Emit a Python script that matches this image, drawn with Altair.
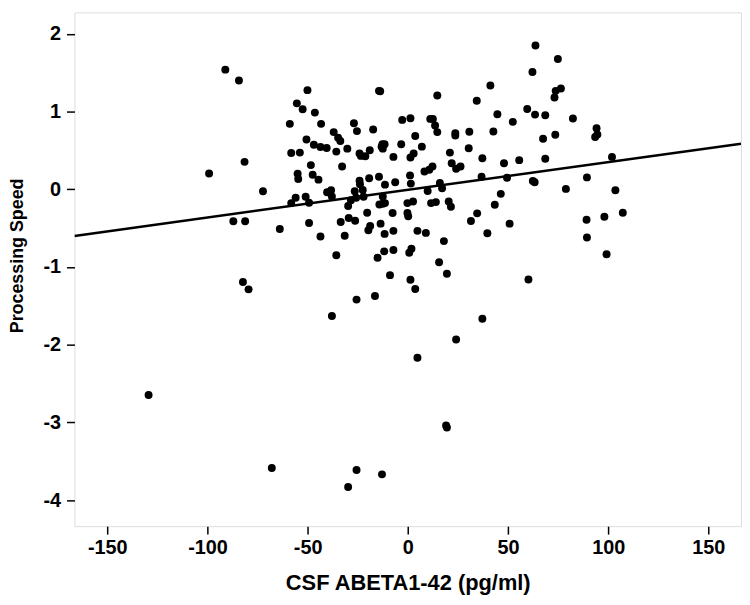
import altair as alt
import pandas as pd

# CSF ABETA1-42 (pg/ml) vs Processing Speed
abeta = [
    -91.1, -84.3, -50.1, -14.4, -13.8, -55.4, -52.5, -46.4, -58.9, -43.3,
    -26.9, -25.4, -17.3, -2.8, 1.3, 11.2, 12.5, 13.6, 14.7, 14.7,
    34.4, 41.2, 44.7, 52.4, 42.7, 30.7, 23.7, 23.7, 3.7, -3.3,
    7.0, -12.7, -11.6, -12.5, -13.1, 59.6, 63.5, 68.6, 62.2, 63.7,
    74.9, 73.8, 76.4, 73.2, 82.4, 94.2, 94.6, 93.5, 73.6, 67.5,
    68.6, 55.6, 48.0, 37.2, 30.4, 21.0, 21.9, 24.1, 26.3, 36.8,
    49.5, 101.9, 89.4, 78.9, 103.6, 62.4, 63.3, 46.4, 43.4, 107.3,
    98.1, 89.2, 89.4, 99.2, 50.8, 39.7, 34.6, 31.5, 60.2, -50.6,
    -46.9, -43.6, -40.5, -37.0, -34.8, -33.7, -30.2, -35.7, -58.2, -53.9,
    -48.4, -32.8, -24.1, -23.4, -21.2, -19.0, -7.2, 1.3, 2.9, -81.5,
    -99.2, -72.3, -55.0, -54.7, -47.5, -44.6, -14.4, -19.3, -24.1, -23.9,
    -11.4, -6.3, 1.1, 1.5, 8.3, 10.7, 12.3, 16.0, 17.1, 9.9,
    -40.3, -38.3, -37.9, -26.5, -22.5, -22.1, -25.8, -28.4, -29.8, -56.0,
    -58.2, -49.3, -51.0, -12.5, -12.5, -14.2, -11.4, -0.2, 2.6, 11.6,
    14.0, 20.4, 21.5, -20.3, -7.6, -0.2, 0.2, -29.5, -26.3, -33.5,
    -13.6, -18.8, -19.7, -11.6, -7.2, 4.8, 9.0, 18.0, 15.6, 19.5,
    -87.1, -81.2, -63.9, -49.3, -43.6, -31.5, -35.7, -15.1, -11.8, -7.2,
    0.7, 1.8, -8.9, 1.3, 3.7, -25.6, -16.4, -82.3, -79.5, -37.9,
    37.2, 24.1, 4.8, -129.4, 19.1, 19.5, -67.9, -25.6, -12.9, -29.8,
]
speed = [
    1.540, 1.399, 1.276, 1.267, 1.263, 1.106, 1.029, 0.987, 0.842, 0.842,
    0.851, 0.749, 0.770, 0.893, 0.915, 0.906, 0.906, 0.821, 0.736, 1.208,
    1.140, 1.335, 0.966, 0.868, 0.744, 0.740, 0.723, 0.693, 0.685, 0.579,
    0.549, 0.579, 0.579, 0.523, 0.549, 1.034, 0.961, 0.953, 1.510, 1.850,
    1.676, 1.267, 1.297, 1.182, 0.910, 0.787, 0.706, 0.672, 0.702, 0.651,
    0.392, 0.375, 0.336, 0.400, 0.528, 0.472, 0.336, 0.264, 0.294, 0.162,
    0.149, 0.417, 0.153, 0.005, -0.012, 0.107, 0.090, -0.059, -0.199, -0.302,
    -0.353, -0.391, -0.620, -0.837, -0.442, -0.565, -0.310, -0.408, -1.160, 0.642,
    0.574, 0.545, 0.532, 0.736, 0.664, 0.621, 0.523, 0.485, 0.468, 0.472,
    0.311, 0.294, 0.460, 0.430, 0.426, 0.502, 0.417, 0.409, 0.460, 0.353,
    0.204, -0.025, 0.200, 0.132, 0.187, 0.124, 0.162, 0.141, 0.111, 0.064,
    0.060, 0.090, 0.179, 0.073, 0.230, 0.251, 0.294, 0.081, 0.013, -0.021,
    -0.038, -0.012, -0.093, -0.025, -0.008, -0.097, -0.110, -0.140, -0.216, -0.110,
    -0.178, -0.174, -0.097, -0.093, -0.187, -0.195, -0.178, -0.178, -0.157, -0.178,
    -0.165, -0.157, -0.225, -0.302, -0.306, -0.306, -0.348, -0.370, -0.404, -0.421,
    -0.442, -0.472, -0.527, -0.574, -0.535, -0.535, -0.561, -0.667, -0.939, -1.088,
    -0.412, -0.412, -0.510, -0.433, -0.608, -0.599, -0.850, -0.880, -0.799, -0.782,
    -0.816, -0.765, -1.105, -1.165, -1.284, -1.420, -1.373, -1.194, -1.288, -1.632,
    -1.666, -1.934, -2.168, -2.648, -3.040, -3.065, -3.588, -3.614, -3.669, -3.831,
]

# fitted regression line (end points at the frame edges)
fit_x = [-166.4, 166.3]
fit_y = [-0.600, 0.587]

x_ticks = [-150, -100, -50, 0, 50, 100, 150]
y_ticks = [2, 1, 0, -1, -2, -3, -4]

X_DOMAIN = [-166.4, 166.3]
Y_DOMAIN = [-4.336, 2.277]

pts = pd.DataFrame({"x": abeta, "y": speed})
line = pd.DataFrame({"x": fit_x, "y": fit_y})

FONT = "Liberation Sans"
PLAIN_LABEL = "datum.value + ''"

x_enc = alt.X(
    "x:Q",
    scale=alt.Scale(domain=X_DOMAIN, nice=False, zero=False),
    axis=alt.Axis(
        title="CSF ABETA1-42 (pg/ml)",
        values=x_ticks,
        labelExpr=PLAIN_LABEL,
        grid=False,
        domain=False,
        ticks=True,
        tickSize=8,
        tickWidth=1.5,
        tickColor="black",
        labelFont=FONT,
        labelFontSize=20,
        labelFontWeight="bold",
        labelColor="black",
        labelPadding=4,
        labelFlush=False,
        titleFont=FONT,
        titleFontSize=22,
        titleFontWeight="bold",
        titleColor="black",
        titleBaseline="alphabetic",
        titleY=64,
    ),
)
y_enc = alt.Y(
    "y:Q",
    scale=alt.Scale(domain=Y_DOMAIN, nice=False, zero=False),
    axis=alt.Axis(
        title="Processing Speed",
        values=y_ticks,
        labelExpr=PLAIN_LABEL,
        grid=False,
        domain=False,
        ticks=True,
        tickSize=8,
        tickWidth=1.5,
        tickColor="black",
        labelFont=FONT,
        labelFontSize=20,
        labelFontWeight="bold",
        labelColor="black",
        labelPadding=6,
        labelFlush=False,
        titleFont=FONT,
        titleFontSize=18,
        titleFontWeight="bold",
        titleColor="black",
        titleAngle=270,
        titleAlign="center",
        titleBaseline="alphabetic",
        titleX=-52,
        titleY=245,
    ),
)

points = alt.Chart(pts).mark_circle(size=64, color="black", opacity=1).encode(x=x_enc, y=y_enc)
reg = alt.Chart(line).mark_line(color="black", strokeWidth=2.5, clip=True).encode(x="x:Q", y="y:Q")

chart = (
    alt.layer(points, reg)
    .properties(
        width=672,
        height=518,
        autosize=alt.AutoSizeParams(type="none"),
        padding={"left": 67, "top": 2, "right": 1, "bottom": 70},
    )
    .configure_view(stroke="black", strokeWidth=2)
    .configure(background="white")
)

chart.save("out.html", embed_options={"renderer": "svg", "actions": False})
